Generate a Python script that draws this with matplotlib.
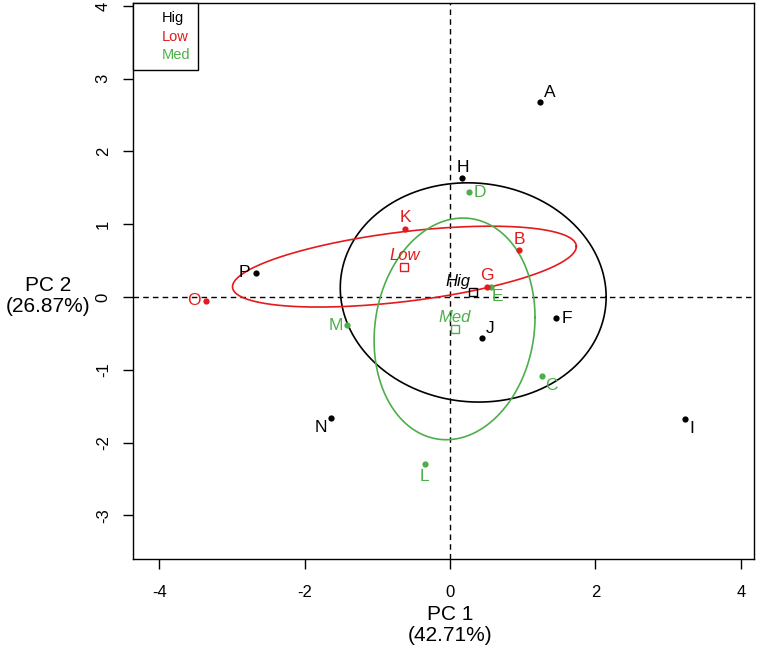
import numpy as np
import matplotlib
matplotlib.use("Agg")
import matplotlib.pyplot as plt

plt.rcParams['font.family'] = ['Liberation Sans', 'DejaVu Sans']
plt.rcParams['axes.unicode_minus'] = False

# ---- data ----
labels = ["A", "B", "C", "D", "E", "F", "G", "H", "I", "J", "K", "L", "M", "N", "O", "P"]
pc1 = [1.24, 0.95, 1.26, 0.26, 0.56, 1.46, 0.51, 0.17, 3.23, 0.44, -0.62, -0.35, -1.42, -1.64, -3.35, -2.67]
pc2 = [2.68, 0.64, -1.08, 1.44, 0.14, -0.29, 0.14, 1.63, -1.68, -0.57, 0.94, -2.30, -0.39, -1.66, -0.05, 0.33]
group = ["Hig", "Low", "Med", "Med", "Med", "Hig", "Low", "Hig", "Hig", "Hig", "Low", "Med", "Med", "Hig", "Low", "Hig"]
groups = ["Hig", "Low", "Med"]
pc1_label = "PC 1\n(42.71%)"
pc2_label = "PC 2\n(26.87%)"

# ---- styles ----
colors = {"Hig": "black", "Low": "#E41A1C", "Med": "#4DAF4A"}
# label offsets in points (dx, dy)
label_off = {"A": (7, 7), "B": (0, 8), "C": (7, -7), "D": (8, 0), "E": (5, -7), "F": (8, 0),
             "G": (0, 8), "H": (0, 8), "I": (5, -7), "J": (6, 7), "K": (0, 8), "L": (0, -9),
             "M": (-8, 0), "N": (-7, -7), "O": (-9, 0), "P": (-8, 0)}
center_off = {"Hig": (-11, 8), "Low": (0, 8), "Med": (0, 8)}

fig = plt.figure(figsize=(7.58, 6.57), dpi=100)
ax = fig.add_axes([133/758, 98/657, 621/758, 556/657])

ax.axhline(0, color="black", lw=1, ls=(0, (4, 3)), zorder=1)
ax.axvline(0, color="black", lw=1, ls=(0, (4, 3)), zorder=1)

x = np.array(pc1); y = np.array(pc2); g = np.array(group)
scale = np.sqrt(5.991464547107979)  # chi2 0.95, df=2
t = np.linspace(0, 2*np.pi, 300)
for grp in groups:
    m = g == grp
    xs, ys = x[m], y[m]
    n = m.sum()
    mx, my = xs.mean(), ys.mean()
    cov = np.cov(xs, ys) / n
    L = np.linalg.cholesky(cov)
    circ = np.vstack([np.cos(t), np.sin(t)]) * scale
    e = L @ circ
    ax.plot(mx + e[0], my + e[1], color=colors[grp], lw=1.2, zorder=2)
    ax.plot([mx], [my], marker="s", ms=6, mfc="none", mec=colors[grp], mew=1, zorder=3)
    ax.annotate(grp, (mx, my), xytext=center_off[grp], textcoords="offset points",
                ha="center", va="center", color=colors[grp], fontsize=12, style="italic", zorder=4)

for lab, xi, yi, gi in zip(labels, pc1, pc2, group):
    ax.plot([xi], [yi], marker="o", ms=4.5, color=colors[gi], mec="none", zorder=3)
    ax.annotate(lab, (xi, yi), xytext=label_off[lab], textcoords="offset points",
                ha="center", va="center", color=colors[gi], fontsize=12.5, zorder=4)

ax.set_xlim(-4.36, 4.18)
ax.set_ylim(-3.60, 4.04)
ax.set_xticks([-4, -2, 0, 2, 4])
ax.set_yticks([-3, -2, -1, 0, 1, 2, 3, 4])
ax.tick_params(axis="both", direction="out", length=7, width=1, labelsize=12, pad=12)
ax.tick_params(axis="y", pad=9)
for lbl in ax.get_yticklabels():
    lbl.set_rotation(90)
    lbl.set_va("center")
for sp in ax.spines.values():
    sp.set_linewidth(1)

ax.set_xlabel(pc1_label, fontsize=15, va="center", linespacing=1.15)
ax.xaxis.set_label_coords(0.511, -0.119)
ax.set_ylabel(pc2_label, fontsize=15, rotation=0, ha="center", va="center", linespacing=1.15)
ax.yaxis.set_label_coords(-0.137, 0.473)

handles = [plt.Line2D([], [], lw=0, marker=None) for _ in groups]
leg = ax.legend(handles, groups, loc="upper left", bbox_to_anchor=(0, 1), borderaxespad=0,
                handlelength=0.8, handletextpad=0.6, fontsize=10.5, fancybox=False,
                labelcolor=[colors[k] for k in groups], framealpha=1, borderpad=0.55, labelspacing=0.32)
leg.get_frame().set_edgecolor("black")
leg.get_frame().set_linewidth(1)

fig.savefig("out.png", dpi=100)
